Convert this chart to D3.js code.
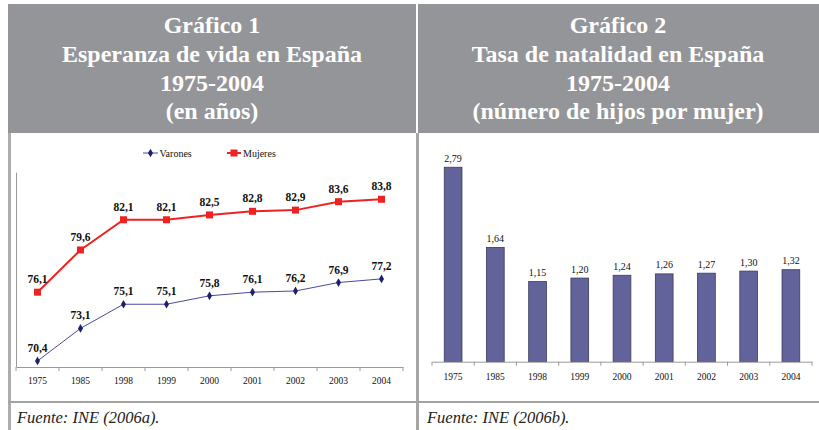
<!DOCTYPE html>
<html><head><meta charset="utf-8">
<script src="https://cdn.jsdelivr.net/npm/d3@7"></script>
<style>
html,body{margin:0;padding:0;background:#fff;}
svg{display:block;}
text{font-family:"Liberation Serif","Times New Roman",serif;}
</style></head>
<body>
<svg id="c" width="819" height="430"></svg>
<script>
// ---- data ----
const years = ["1975","1985","1998","1999","2000","2001","2002","2003","2004"];
const varones = [70.4,73.1,75.1,75.1,75.8,76.1,76.2,76.9,77.2];
const mujeres = [76.1,79.6,82.1,82.1,82.5,82.8,82.9,83.6,83.8];
const natalidad = [2.79,1.64,1.15,1.20,1.24,1.26,1.27,1.30,1.32];
const title1 = ["Gráfico 1","Esperanza de vida en España","1975-2004","(en años)"];
const title2 = ["Gráfico 2","Tasa de natalidad en España","1975-2004","(número de hijos por mujer)"];
const source1 = "Fuente: INE (2006a).";
const source2 = "Fuente: INE (2006b).";
const legendNames = ["Varones","Mujeres"];

const fmt1 = v => d3.format(".1f")(v).replace(".", ",");
const fmt2 = v => d3.format(".2f")(v).replace(".", ",");
const SERIF = "Liberation Serif, Times New Roman, serif";

const svg = d3.select("#c");
const headFill = "#949599";

// ---- panels / headers ----
svg.append("rect").attr("x",8).attr("y",4).attr("width",408).attr("height",129).attr("fill",headFill);
svg.append("rect").attr("x",418).attr("y",4).attr("width",401).attr("height",129).attr("fill",headFill);
svg.append("rect").attr("x",8).attr("y",133).attr("width",3).attr("height",297).attr("fill","#adadad");
svg.append("rect").attr("x",416).attr("y",133).attr("width",3).attr("height",297).attr("fill","#a6a6a6");
svg.append("rect").attr("x",8).attr("y",401).attr("width",811).attr("height",2).attr("fill","#a3a3a3");

function titles(lines, cx){
  const baselines = [33,62,90.5,119];
  lines.forEach((t,i)=>{
    svg.append("text").attr("x",cx).attr("y",baselines[i]).attr("text-anchor","middle")
      .attr("font-family",SERIF).attr("fill","#fff").attr("font-size","24px").attr("font-weight","bold").text(t);
  });
}
titles(title1, 212);
titles(title2, 618);

svg.append("text").attr("x",17).attr("y",423).attr("font-size","16.5px").attr("font-style","italic")
  .attr("font-family",SERIF).attr("fill","#222").text(source1);
svg.append("text").attr("x",427).attr("y",423).attr("font-size","16.5px").attr("font-style","italic")
  .attr("font-family",SERIF).attr("fill","#222").text(source2);

// ---- chart 1: lines ----
const x1 = d3.scaleBand().domain(years).range([16,403]);
const y1 = d3.scaleLinear().domain([69.9,86]).range([367,172.7]);
const g1 = svg.append("g");
g1.append("line").attr("x1",16.5).attr("x2",16.5).attr("y1",y1(86)).attr("y2",y1(69.9)).attr("stroke","#9a9a9a");
const ax1 = g1.append("g").attr("transform",`translate(0,${y1(69.9)})`)
  .call(d3.axisBottom(x1).tickSize(0).tickPadding(10.5));
ax1.select(".domain").attr("stroke","#9a9a9a");
ax1.selectAll("text").attr("font-size","9.5px").attr("fill","#111").attr("font-family",SERIF);
d3.range(years.length+1).forEach(i=>{
  const xx = x1.range()[0] + i*x1.step();
  g1.append("line").attr("x1",xx).attr("x2",xx).attr("y1",y1(69.9)).attr("y2",y1(69.9)+4).attr("stroke","#9a9a9a");
});
const cx1 = d => x1(d)+x1.bandwidth()/2;
const line1 = d3.line().x((d,i)=>cx1(years[i])).y(d=>y1(d));
g1.append("path").datum(mujeres).attr("d",line1).attr("fill","none").attr("stroke","#ee2222").attr("stroke-width",2);
g1.selectAll(".sq").data(mujeres).enter().append("rect")
  .attr("x",(d,i)=>cx1(years[i])-3.5).attr("y",d=>y1(d)-3.5).attr("width",7).attr("height",7).attr("fill","#ee2222");
g1.append("path").datum(varones).attr("d",line1).attr("fill","none").attr("stroke","#4a4a9c").attr("stroke-width",1);
const diamond = d3.symbol().type(d3.symbolDiamond).size(22);
g1.selectAll(".dm").data(varones).enter().append("path")
  .attr("d",diamond).attr("transform",(d,i)=>`translate(${cx1(years[i])},${y1(d)})`).attr("fill","#1f1f70");
[mujeres,varones].forEach(s=>{
  g1.selectAll(null).data(s).enter().append("text")
    .attr("x",(d,i)=>cx1(years[i])).attr("y",d=>y1(d)-9).attr("text-anchor","middle")
    .attr("font-family",SERIF).attr("font-size","11.5px").attr("font-weight","bold").attr("fill","#111").text(d=>fmt1(d));
});
const lg = g1.append("g");
lg.append("line").attr("x1",143).attr("x2",158).attr("y1",153).attr("y2",153).attr("stroke","#4a4a9c");
lg.append("path").attr("d",diamond).attr("transform","translate(150.5,153)").attr("fill","#1f1f70");
lg.append("text").attr("x",159.5).attr("y",156.5).attr("font-family",SERIF).attr("font-size","10px").attr("fill","#111").text(legendNames[0]);
lg.append("line").attr("x1",227).attr("x2",241).attr("y1",153).attr("y2",153).attr("stroke","#ee2222").attr("stroke-width",2);
lg.append("rect").attr("x",230.5).attr("y",149.5).attr("width",7).attr("height",7).attr("fill","#ee2222");
lg.append("text").attr("x",243).attr("y",156.5).attr("font-family",SERIF).attr("font-size","10px").attr("fill","#111").text(legendNames[1]);

// ---- chart 2: bars ----
const x2 = d3.scaleBand().domain(years).range([432,812]);
const y2 = d3.scaleLinear().domain([0,3]).range([361.7,152.6]);
const g2 = svg.append("g");
const bwf = 0.42;
g2.selectAll(".bar").data(natalidad).enter().append("rect")
  .attr("x",(d,i)=>x2(years[i])+x2.bandwidth()*(1-bwf)/2).attr("width",x2.bandwidth()*bwf)
  .attr("y",d=>y2(d)).attr("height",d=>y2(0)-y2(d))
  .attr("fill","#63639b").attr("stroke","#3a3a5e").attr("stroke-width",0.8);
const ax2 = g2.append("g").attr("transform",`translate(0,${y2(0)})`)
  .call(d3.axisBottom(x2).tickSize(0).tickPadding(11.5));
ax2.select(".domain").attr("stroke","#9a9a9a");
ax2.selectAll("text").attr("font-size","9.5px").attr("fill","#111").attr("font-family",SERIF);
d3.range(years.length+1).forEach(i=>{
  const xx = x2.range()[0] + i*x2.step();
  g2.append("line").attr("x1",xx).attr("x2",xx).attr("y1",y2(0)).attr("y2",y2(0)+4).attr("stroke","#9a9a9a");
});
g2.selectAll(".bl").data(natalidad).enter().append("text")
  .attr("x",(d,i)=>x2(years[i])+x2.bandwidth()/2).attr("y",d=>y2(d)-5.5).attr("text-anchor","middle")
  .attr("font-family",SERIF).attr("font-size","10px").attr("fill","#111").text(d=>fmt2(d));
</script>
</body></html>
